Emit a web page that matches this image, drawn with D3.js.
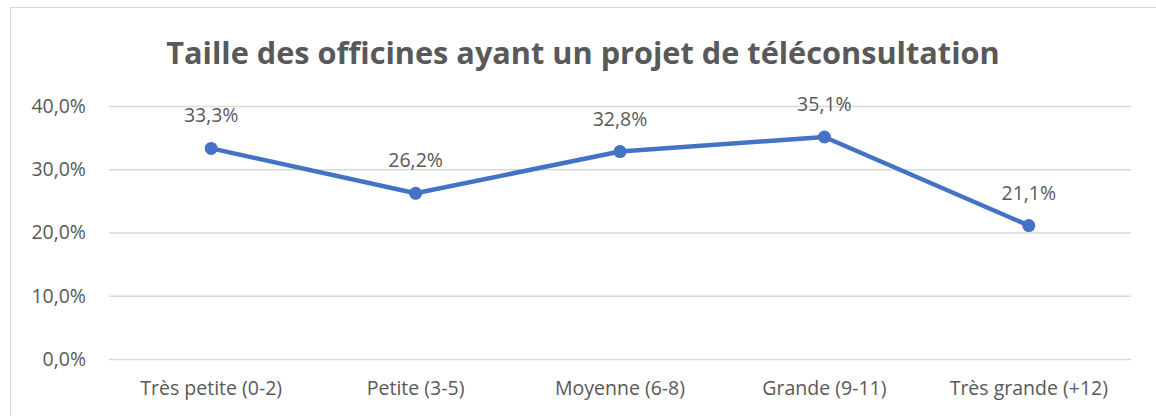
<!DOCTYPE html>
<html>
<head>
<meta charset="utf-8">
<script src="https://cdn.jsdelivr.net/npm/d3@7"></script>
<style>
  html, body { margin: 0; padding: 0; background: #fff; }
  svg { display: block; }
  text { font-family: "Open Sans", "Noto Sans", sans-serif; fill: #595959; }
</style>
</head>
<body>
<svg id="chart" width="1156" height="416"></svg>
<script>
const categories = ["Très petite (0-2)", "Petite (3-5)", "Moyenne (6-8)", "Grande (9-11)", "Très grande (+12)"];
const values = [33.3, 26.2, 32.8, 35.1, 21.1];
const valueLabels = ["33,3%", "26,2%", "32,8%", "35,1%", "21,1%"];
const yTicks = [0, 10, 20, 30, 40];
const yTickLabels = ["0,0%", "10,0%", "20,0%", "30,0%", "40,0%"];
const title = "Taille des officines ayant un projet de téléconsultation";

const svg = d3.select("#chart");
const W = 1156, H = 416;
const plot = { left: 109, right: 1131, top: 106, bottom: 359 };
const labelSize = 19.5;

// chart frame (top and left edges fall inside the view)
svg.append("rect")
  .attr("x", 10.5).attr("y", 7.5)
  .attr("width", W + 20).attr("height", H + 20)
  .attr("fill", "#fff").attr("stroke", "#d9d9d9").attr("stroke-width", 1);

const x = d3.scaleBand().domain(categories).range([plot.left, plot.right]).padding(0);
const y = d3.scaleLinear().domain([0, 40]).range([plot.bottom, plot.top]);

// title
const t = svg.append("text")
  .attr("x", 583).attr("y", 64)
  .attr("text-anchor", "middle")
  .attr("font-weight", "bold")
  .attr("font-size", 32)
  .text(title);
const tw = t.node().getComputedTextLength();
if (tw > 834) t.attr("font-size", 32 * 834 / tw);

// gridlines
const grid = d3.axisLeft(y).tickValues(yTicks).tickSize(-(plot.right - plot.left)).tickFormat("");
svg.append("g")
  .attr("transform", `translate(${plot.left},0)`)
  .call(grid)
  .call(g => g.select(".domain").remove())
  .call(g => g.selectAll("line").attr("stroke", "#d9d9d9").attr("stroke-width", 1.3));

// y tick labels
const yAxis = d3.axisLeft(y).tickValues(yTicks).tickSize(0).tickPadding(23)
  .tickFormat((d, i) => yTickLabels[i]);
svg.append("g")
  .attr("transform", `translate(${plot.left},0)`)
  .call(yAxis)
  .call(g => g.select(".domain").remove())
  .call(g => g.selectAll("text").attr("font-size", labelSize).attr("fill", "#595959")
    .style("font-family", "'Open Sans', sans-serif"));

// x category labels
const xAxis = d3.axisBottom(x).tickSize(0).tickPadding(22);
svg.append("g")
  .attr("transform", `translate(0,${plot.bottom})`)
  .call(xAxis)
  .call(g => g.select(".domain").remove())
  .call(g => g.selectAll("text").attr("font-size", labelSize).attr("fill", "#595959")
    .style("font-family", "'Open Sans', sans-serif"));

const cx = d => x(d) + x.bandwidth() / 2;

// series line
const line = d3.line().x((d, i) => cx(categories[i])).y(d => y(d));
svg.append("path")
  .datum(values)
  .attr("d", line)
  .attr("fill", "none")
  .attr("stroke", "#4472C4")
  .attr("stroke-width", 4.5)
  .attr("stroke-linejoin", "round");

// markers
svg.append("g").selectAll("circle")
  .data(values)
  .join("circle")
  .attr("cx", (d, i) => cx(categories[i]))
  .attr("cy", d => y(d))
  .attr("r", 6.5)
  .attr("fill", "#4472C4");

// data labels
svg.append("g").selectAll("text")
  .data(values)
  .join("text")
  .attr("x", (d, i) => cx(categories[i]))
  .attr("y", d => y(d) - 26)
  .attr("text-anchor", "middle")
  .attr("font-size", labelSize)
  .text((d, i) => valueLabels[i]);
</script>
</body>
</html>
